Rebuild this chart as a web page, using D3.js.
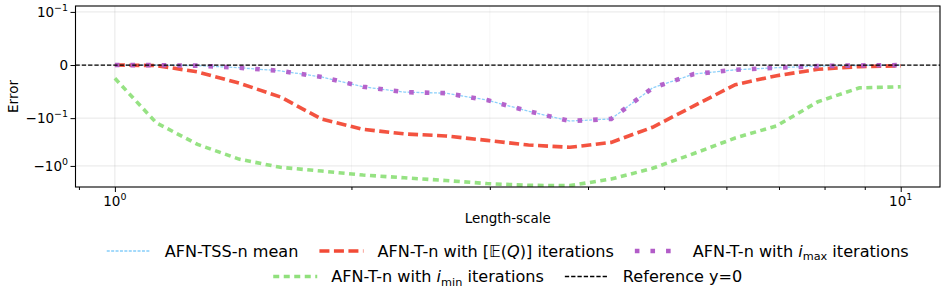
<!DOCTYPE html>
<html>
<head>
<meta charset="utf-8">
<script src="https://cdn.jsdelivr.net/npm/d3@7"></script>
<style>
  body { margin: 0; background: #fff; }
  svg { display: block; font-family: "DejaVu Sans", sans-serif; }
</style>
</head>
<body>
<script>
// length-scales (20 log-spaced points between 1 and 10)
const lengthScales = [1.0, 1.1288, 1.2743, 1.4384, 1.6238, 1.8330, 2.0691, 2.3357, 2.6367, 2.9764,
  3.3598, 3.7927, 4.2813, 4.8329, 5.4556, 6.1585, 6.9519, 7.8476, 8.8587, 10.0]

// error series
const tssMean = [0, -0.0003, -0.0012, -0.005, -0.011, -0.0225, -0.041, -0.051, -0.053, -0.066,
  -0.087, -0.115, -0.104, -0.043, -0.017, -0.009, -0.005, -0.002, -0.0008, -0.0002]
const iterExpected = [0, -0.001, -0.013, -0.034, -0.060, -0.105, -0.171, -0.214, -0.236, -0.292,
  -0.365, -0.408, -0.322, -0.155, -0.077, -0.037, -0.020, -0.008, -0.003, -0.0015]
const iterMax = [0, -0.0003, -0.0012, -0.005, -0.011, -0.0225, -0.041, -0.051, -0.053, -0.066,
  -0.087, -0.115, -0.104, -0.043, -0.017, -0.009, -0.005, -0.002, -0.0008, -0.0002]
const iterMin = [-0.025, -0.125, -0.355, -0.72, -1.07, -1.28, -1.55, -1.77, -2.02, -2.34,
  -2.55, -2.58, -1.88, -1.12, -0.55, -0.26, -0.145, -0.069, -0.043, -0.041]

// axes
const xLim = [0.891, 11.22]
const yLim = [-2.76, 0.133]
const xMajorTicks = [1, 10]
const xMajorLabels = [["10", "0"], ["10", "1"]]
const xMinorTicks = [0.9, 2, 3, 4, 5, 6, 7, 8, 9]
const yTicks = [0.1, 0, -0.1, -1]
const yTickLabels = [["10", "\u22121"], ["0", ""], ["\u221210", "\u22121"], ["\u221210", "0"]]

// legend labels: [text, kind]
const seriesLabels = [
  [["AFN-TSS-n mean", ""]],
  [["AFN-T-n with [", ""], ["\uD835\uDD3C", ""], ["(", ""], ["Q", "it"], [")] iterations", ""]],
  [["AFN-T-n with ", ""], ["i", "it"], ["max", "sub"], [" iterations", ""]],
  [["AFN-T-n with ", ""], ["i", "it"], ["min", "sub"], [" iterations", ""]],
  [["Reference y=0", ""]]
]

const width = 947, height = 298
const margin = {top: 6, right: 7, bottom: 111, left: 75.5}

// matplotlib style symlog (linthresh 0.1, linscale 1)
const linthresh = 0.1
const linscaleAdj = 1 / (1 - 1 / 10)
function symT(v) {
  const a = Math.abs(v)
  if (a <= linthresh) return v / linthresh * linscaleAdj
  return Math.sign(v) * (linscaleAdj + Math.log10(a / linthresh))
}

const svg = d3.select('body').append('svg')
  .attr('width', width)
  .attr('height', height)

const xScale = d3.scaleLog()
  .domain(xLim)
  .range([margin.left, width - margin.right])

const yScale = d3.scaleLinear()
  .domain([symT(yLim[0]), symT(yLim[1])])
  .range([height - margin.bottom, margin.top])

const plotBottom = height - margin.bottom
const plotRight = width - margin.right

// grid
const grid = svg.append('g')
grid.selectAll('.gx-minor').data(xMinorTicks.filter(d => d > 1)).enter()
  .append('line')
  .attr('x1', d => xScale(d)).attr('x2', d => xScale(d))
  .attr('y1', margin.top).attr('y2', plotBottom)
  .attr('stroke', '#b0b0b0').attr('stroke-opacity', 0.15).attr('stroke-width', 0.8)
grid.selectAll('.gx').data(xMajorTicks).enter()
  .append('line')
  .attr('x1', d => xScale(d)).attr('x2', d => xScale(d))
  .attr('y1', margin.top).attr('y2', plotBottom)
  .attr('stroke', '#b0b0b0').attr('stroke-opacity', 0.3).attr('stroke-width', 1)
grid.selectAll('.gy').data(yTicks).enter()
  .append('line')
  .attr('x1', margin.left).attr('x2', plotRight)
  .attr('y1', d => yScale(symT(d))).attr('y2', d => yScale(symT(d)))
  .attr('stroke', '#b0b0b0').attr('stroke-opacity', 0.3).attr('stroke-width', 1)

// series
svg.append('clipPath').attr('id', 'clip')
  .append('rect')
  .attr('x', margin.left).attr('y', margin.top)
  .attr('width', plotRight - margin.left).attr('height', plotBottom - margin.top)

const line = d3.line()
  .x(d => xScale(d[0]))
  .y(d => yScale(symT(d[1])))

const series = [
  {values: tssMean, color: '#87cefa', width: 1.3, dash: '3,1.4'},
  {values: iterExpected, color: '#f24a36', width: 3.6, dash: '10,4.5'},
  {values: iterMax, color: '#b25cc8', width: 4.6, dash: '4.6,11'},
  {values: iterMin, color: '#90e07c', width: 3.6, dash: '6,4.5'},
  {values: lengthScales.map(() => 0), color: '#000000', width: 1.3, dash: '4.3,2', ref: true}
]

const lines = svg.append('g').attr('clip-path', 'url(#clip)')
series.forEach(s => {
  let pts = lengthScales.map((x, i) => [x, s.values[i]])
  if (s.ref) pts = [[xLim[0], 0], [xLim[1], 0]]
  lines.append('path')
    .datum(pts)
    .attr('d', line)
    .attr('fill', 'none')
    .attr('stroke', s.color)
    .attr('stroke-width', s.width)
    .attr('stroke-dasharray', s.dash)
    .attr('stroke-opacity', s.ref ? 1 : 0.95)
})

// spines
svg.append('rect')
  .attr('x', margin.left).attr('y', margin.top)
  .attr('width', plotRight - margin.left).attr('height', plotBottom - margin.top)
  .attr('fill', 'none').attr('stroke', '#000').attr('stroke-width', 1.1)

// x axis
const xAxis = svg.append('g')
  .attr('transform', 'translate(0,' + plotBottom + ')')
  .call(d3.axisBottom(xScale).tickValues(xMajorTicks).tickSize(5).tickFormat(''))
xAxis.select('.domain').remove()
svg.append('g')
  .attr('transform', 'translate(0,' + plotBottom + ')')
  .call(d3.axisBottom(xScale).tickValues(xMinorTicks).tickSize(3).tickFormat(''))
  .select('.domain').remove()

function supLabel(sel, parts, size) {
  sel.append('tspan').text(parts[0])
  if (parts[1]) {
    sel.append('tspan').text(parts[1])
      .attr('font-size', size * 0.7)
      .attr('dy', -size * 0.42)
  }
}

xMajorTicks.forEach((d, i) => {
  const t = svg.append('text')
    .attr('x', xScale(d)).attr('y', 206)
    .attr('text-anchor', 'middle')
    .attr('font-size', 13.5)
  supLabel(t, xMajorLabels[i], 13.5)
})

// y axis
const yAxis = svg.append('g')
  .attr('transform', 'translate(' + margin.left + ',0)')
  .call(d3.axisLeft(yScale).tickValues(yTicks.map(symT)).tickSize(5).tickFormat(''))
yAxis.select('.domain').remove()

yTicks.forEach((d, i) => {
  const t = svg.append('text')
    .attr('x', 68).attr('y', yScale(symT(d)) + 4.9)
    .attr('text-anchor', 'end')
    .attr('font-size', 13.5)
  supLabel(t, yTickLabels[i], 13.5)
})

// axis labels
svg.append('text')
  .attr('x', (margin.left + plotRight) / 2).attr('y', 223)
  .attr('text-anchor', 'middle').attr('font-size', 13.5)
  .text('Length-scale')
svg.append('text')
  .attr('transform', 'translate(18,' + ((margin.top + plotBottom) / 2) + ') rotate(-90)')
  .attr('text-anchor', 'middle').attr('font-size', 13.5)
  .text('Error')

// legend, two centered rows
const legendRows = [[0, 1, 2], [3, 4]]
const legendY = [251, 276.5]
const fs = 16.1, handleLen = 44, handleGap = 14, itemGap = 21
const centerX = (margin.left + plotRight) / 2
const legend = svg.append('g')

legendRows.forEach((row, r) => {
  const items = row.map(k => {
    const g = legend.append('g')
    g.append('line')
      .attr('x1', 0).attr('x2', handleLen)
      .attr('y1', 0).attr('y2', 0)
      .attr('stroke', series[k].color)
      .attr('stroke-width', series[k].width)
      .attr('stroke-dasharray', series[k].dash)
    const t = g.append('text')
      .attr('x', handleLen + handleGap).attr('y', fs * 0.365)
      .attr('font-size', fs)
    let shift = 0
    seriesLabels[k].forEach(p => {
      const ts = t.append('tspan').text(p[0])
      if (p[1] === 'it') ts.attr('font-style', 'italic')
      if (p[1] === 'sub') {
        ts.attr('font-size', fs * 0.7).attr('dy', fs * 0.2)
        shift = fs * 0.2
      } else if (shift) {
        ts.attr('dy', -shift)
        shift = 0
      }
    })
    const w = handleLen + handleGap + t.node().getComputedTextLength()
    return {g, w}
  })
  const total = d3.sum(items, d => d.w) + itemGap * (items.length - 1)
  let cx = centerX - total / 2
  items.forEach(it => {
    it.g.attr('transform', 'translate(' + cx + ',' + legendY[r] + ')')
    cx += it.w + itemGap
  })
})
</script>
</body>
</html>
